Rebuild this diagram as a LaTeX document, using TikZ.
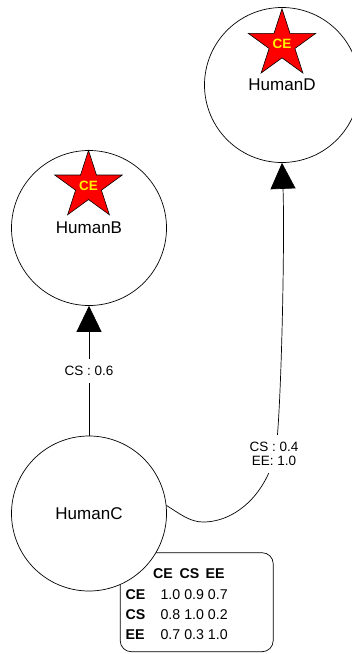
\documentclass[tikz,border=0pt]{standalone}
\usepackage{fontspec}
\setmainfont{Liberation Sans}
\usetikzlibrary{arrows.meta,shapes.geometric}
\begin{document}
\begin{tikzpicture}[x=1pt,y=-1pt,
  human/.style={circle,draw=black,line width=0.7pt,fill=white,minimum size=155pt,inner sep=0pt,
    font=\fontsize{17}{18}\selectfont},
  link/.style={draw=black,line width=0.7pt,-{Triangle[length=26pt,width=25pt]}},
  linklabel/.style={fill=white,inner xsep=2pt,inner ysep=7pt,align=center,
    font=\fontsize{13.5}{14}\selectfont},
  badge/.style={star,star points=5,star point ratio=2.618,minimum size=71pt,inner sep=0pt,
    draw=black,line width=0.6pt,fill=red},
  badgetext/.style={text=yellow,font=\fontsize{13.5}{15}\selectfont\bfseries,inner sep=0pt},
  simbox/.style={draw=black,line width=0.7pt,rounded corners=11pt,minimum width=153pt,
    minimum height=99pt,inner sep=0pt},
  simrow/.style={anchor=base west,inner sep=0pt,font=\fontsize{14.2}{15}\selectfont}
]
\useasboundingbox (0,0) rectangle (352,654);
\clip (0,0) rectangle (352,654);

% similarity table
\node[simbox] (tbl) at (196.7,602.2) {};
\node[simrow] (thead) at (152.8,578.3)
  {\makebox[26.7pt][l]{\textbf{CE}}\makebox[26pt][l]{\textbf{CS}}\textbf{EE}};
\node[simrow] (rowCE) at (125.4,599.3) {\makebox[35pt][l]{\textbf{CE}}1.0 0.9 0.7};
\node[simrow] (rowCS) at (125.4,619.7) {\makebox[35pt][l]{\textbf{CS}}0.8 1.0 0.2};
\node[simrow] (rowEE) at (125.4,639.7) {\makebox[35pt][l]{\textbf{EE}}0.7 0.3 1.0};

% agents
\node[human] (B) at (89,228) {HumanB};
\node[human] (C) at (89,513.5) {HumanC};
\node[human] (D) at (282,85) {HumanD};

% links
\draw[link] (C) -- node[linklabel] (lCB) {CS : 0.6} (B);
\draw[link] (C.6) .. controls (180,514) and (190,522) .. (203,522)
  .. controls (235,522) and (265,495) .. (275,455)
  .. controls (281,430) and (285,240) .. (D.south);
\node[linklabel] (lCD) at (274,454) {CS : 0.4\\EE: 1.0};

% role badges
\node[badge] (sB) at (88.5,186) {};
\node[badgetext] at (sB) {CE};
\node[badge] (sD) at (282,44.3) {};
\node[badgetext] at (sD) {CE};
\end{tikzpicture}
\end{document}
